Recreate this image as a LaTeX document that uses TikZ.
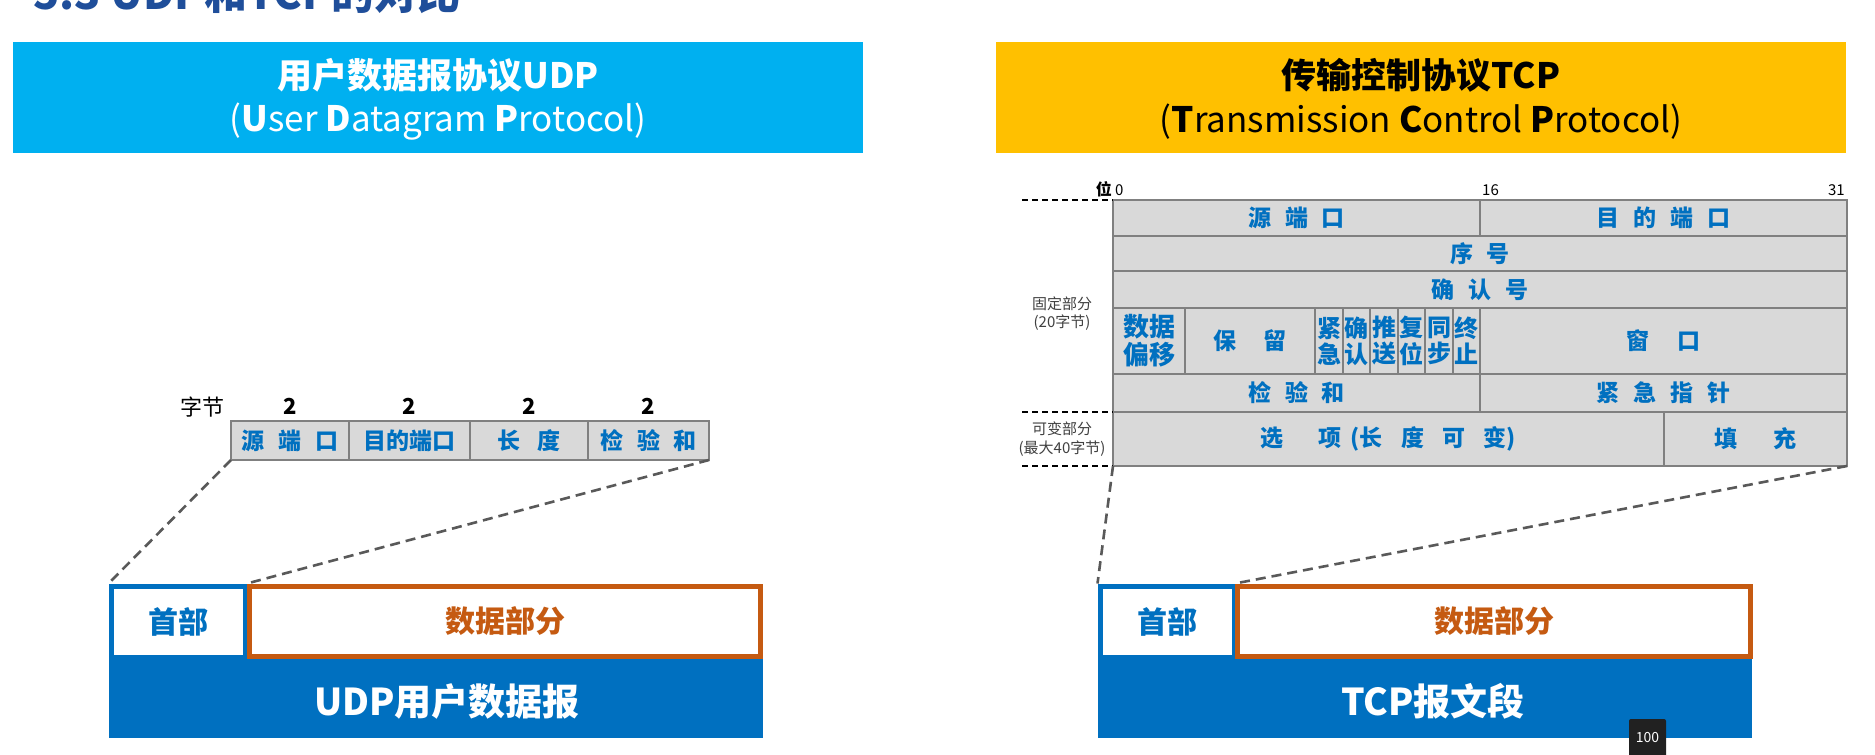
\documentclass[tikz,border=0pt]{standalone}
\usepackage{fontspec}
\setmainfont{Noto Sans CJK SC}
\definecolor{udpblue}{HTML}{00B0F0}
\definecolor{tcpgold}{HTML}{FFC000}
\definecolor{fieldblue}{HTML}{0070C0}
\definecolor{orng}{HTML}{C55A11}
\definecolor{cellgray}{HTML}{D9D9D9}
\definecolor{linegray}{HTML}{808080}
\definecolor{dashgray}{HTML}{595959}
\definecolor{titleblue}{HTML}{1F4E9A}
\definecolor{notegray}{HTML}{404040}
\newcommand{\fs}[1]{\fontsize{#1}{#1}\selectfont}
\newcommand{\gp}{\hspace{0.6em}}
\newcommand{\wgp}{\hspace{1.2em}}
\newcommand{\mycell}[6]{%
  \pgfmathsetmacro{\cx}{(#2+#4)/2}\pgfmathsetmacro{\cy}{(#3+#5)/2}%
  \pgfmathsetmacro{\cw}{#4-#2}\pgfmathsetmacro{\ch}{#5-#3}%
  \node[cell, minimum width=\cw pt, minimum height=\ch pt] (#1) at (\cx,\cy) {#6};}
\tikzset{
  cell/.style={draw=linegray, fill=cellgray, line width=1.6pt, inner sep=0pt, outer sep=0pt,
    text=fieldblue, font=\fs{23}\bfseries, align=center},
  banner/.style={inner sep=0pt, outer sep=0pt, align=center},
  dashline/.style={draw=dashgray, line width=2.6pt, dash pattern=on 10pt off 6pt},
  notedash/.style={draw=black, line width=1.6pt, dash pattern=on 6pt off 4pt},
  note/.style={text=notegray, font=\fs{15}, align=center, inner sep=0pt},
}
\begin{document}
\begin{tikzpicture}[x=1pt, y=-1pt]
\useasboundingbox (0,0) rectangle (1875,755);
\clip (0,0) rectangle (1875,755);
\fill[white] (0,0) rectangle (1875,755);
% partially visible title
\node[anchor=base west, text=titleblue, font=\fs{43}\bfseries, inner sep=0pt] (title) at (33,9) {5.3 UDP和TCP的对比};

% ===== banners =====
\node[banner, fill=udpblue, minimum width=850pt, minimum height=111pt] (udpbanner) at (438,97.5) {};
\node[banner, text=white, font=\fs{35}\bfseries] (udpt1) at (438,75) {用户数据报协议UDP};
\node[banner, text=white, font=\fs{35}] (udpt2) at (438,122) {(\textbf{U}ser \textbf{D}atagram \textbf{P}rotocol)};

\node[banner, fill=tcpgold, minimum width=850pt, minimum height=111pt] (tcpbanner) at (1421,97.5) {};
\node[banner, text=black, font=\fs{35}\bfseries] (tcpt1) at (1421,75) {传输控制协议TCP};
\node[banner, text=black, font=\fs{35}] (tcpt2) at (1421,122) {(\textbf{T}ransmission \textbf{C}ontrol \textbf{P}rotocol)};

% ===== UDP header fields =====
\node[anchor=center, font=\fs{22}, inner sep=0pt] (bytes) at (202,407) {字节};
\mycell{usrc}{231}{421}{349}{460}{源\gp 端\gp 口}
\mycell{udst}{349}{421}{470}{460}{目的端口}
\mycell{ulen}{470}{421}{588}{460}{长\hspace{0.7em}度}
\mycell{uchk}{588}{421}{709}{460}{检\gp 验\gp 和}
\foreach \n/\x in {n1/290,n2/409.5,n3/529,n4/648.5}
  \node[font=\fs{22}\bfseries, inner sep=0pt] (\n) at (\x,406) {2};

% ===== UDP datagram =====
\node[fill=fieldblue, minimum width=654pt, minimum height=81pt, inner sep=0pt, outer sep=0pt] (udpbar) at (436,697.5) {};
\node[text=white, font=\fs{37}\bfseries, inner sep=0pt] (udplabel) at (447,701) {UDP用户数据报};
\node[draw=fieldblue, fill=white, line width=5pt, minimum width=134pt, minimum height=71pt, inner sep=0pt,
  text=fieldblue, font=\fs{30}\bfseries] (uhdr) at (178,621.5) {\raisebox{-3pt}{首部}};
\node[draw=orng, fill=white, line width=5pt, minimum width=511pt, minimum height=70pt, inner sep=0pt,
  text=orng, font=\fs{30}\bfseries] (udata) at (505,621) {\raisebox{-3pt}{数据部分}};
\draw[dashline] (usrc.south west) -- (uhdr.north west);
\draw[dashline] (uchk.south east) -- (udata.north west);

% ===== TCP header table =====
\mycell{tsrc}{1113}{200}{1480}{236}{源\gp 端\gp 口}
\mycell{tdst}{1480}{200}{1847}{236}{目\gp 的\gp 端\gp 口}
\mycell{tseq}{1113}{236}{1847}{271}{序\gp 号}
\mycell{tack}{1113}{271}{1847}{308}{确\gp 认\gp 号}
\mycell{toff}{1113}{308}{1185}{374}{\fs{26}数据\\[2pt]\fs{26}偏移}
\mycell{tres}{1185}{308}{1315}{374}{保\wgp 留}
\mycell{furg}{1315}{308}{1343}{374}{\fs{24}紧\\[3pt]\fs{24}急}
\mycell{fack}{1343}{308}{1370}{374}{\fs{24}确\\[3pt]\fs{24}认}
\mycell{fpsh}{1370}{308}{1398}{374}{\fs{24}推\\[3pt]\fs{24}送}
\mycell{frst}{1398}{308}{1425}{374}{\fs{24}复\\[3pt]\fs{24}位}
\mycell{fsyn}{1425}{308}{1453}{374}{\fs{24}同\\[3pt]\fs{24}步}
\mycell{ffin}{1453}{308}{1480}{374}{\fs{24}终\\[3pt]\fs{24}止}
\mycell{twin}{1480}{308}{1847}{374}{窗\wgp 口}
\mycell{tchk}{1113}{374}{1480}{412}{检\gp 验\gp 和}
\mycell{turg}{1480}{374}{1847}{412}{紧\gp 急\gp 指\gp 针}
\mycell{topt}{1113}{412}{1664}{466}{选\hspace{1.5em}项\hspace{0.4em}(长\hspace{0.8em}度\hspace{0.8em}可\hspace{0.8em}变)}
\mycell{tpad}{1664}{412}{1847}{466}{填\hspace{1.6em}充}

% bit labels
\node[anchor=base east, font=\fs{16}\bfseries, inner sep=0pt] (wei) at (1112,195) {位};
\node[anchor=base west, font=\fs{15}, inner sep=0pt] (b0) at (1115,195) {0};
\node[anchor=base west, font=\fs{15}, inner sep=0pt] (b16) at (1482,195) {16};
\node[anchor=base east, font=\fs{15}, inner sep=0pt] (b31) at (1845,195) {31};

% left notes
\coordinate (d1) at (1022,200);
\coordinate (d2) at (1022,412);
\coordinate (d3) at (1022,466);
\draw[notedash] (d1) -- (tsrc.north west);
\draw[notedash] (d2) -- (topt.north west);
\draw[notedash] (d3) -- (topt.south west);
\node[note] (fixed) at (1062,314) {固定部分\\[3pt](20字节)};
\node[note] (var) at (1062,439) {可变部分\\[4pt](最大40字节)};

% ===== TCP segment =====
\node[fill=fieldblue, minimum width=654pt, minimum height=81pt, inner sep=0pt, outer sep=0pt] (tcpbar) at (1425,697.5) {};
\node[text=white, font=\fs{37}\bfseries, inner sep=0pt] (tcplabel) at (1433,701) {TCP报文段};
\node[draw=fieldblue, fill=white, line width=5pt, minimum width=134pt, minimum height=71pt, inner sep=0pt,
  text=fieldblue, font=\fs{30}\bfseries] (thdr) at (1167,621.5) {\raisebox{-3pt}{首部}};
\node[draw=orng, fill=white, line width=5pt, minimum width=513pt, minimum height=70pt, inner sep=0pt,
  text=orng, font=\fs{30}\bfseries] (tdata) at (1494,621) {\raisebox{-3pt}{数据部分}};
\draw[dashline] (topt.south west) -- (thdr.north west);
\draw[dashline] (tpad.south east) -- (tdata.north west);

% page badge
\node[fill=black!87, rounded corners=2pt, minimum width=37pt, minimum height=38pt, inner sep=0pt,
  text=white, font=\fs{14}] (badge) at (1647.5,738) {100};
\end{tikzpicture}
\end{document}
